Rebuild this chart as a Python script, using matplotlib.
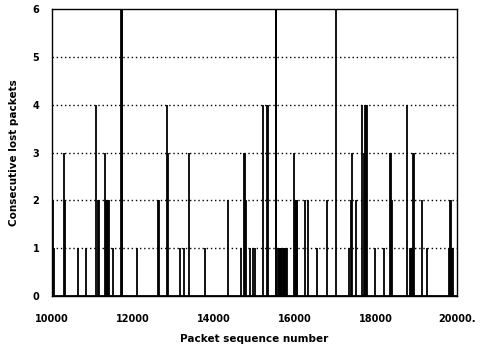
import matplotlib.pyplot as plt

# lost-packet events: packet number and burst length
packets = [10020, 10060, 10290, 10320,
           10650, 10840, 11100, 11130, 11150,
           11320, 11340, 11360, 11380, 11400, 11510,
           11700, 11720, 11740, 12100, 12620, 12650,
           12840, 12870, 13160, 13260, 13380, 13790,
           14350, 14660, 14740, 14770, 14800, 14890, 14960,
           15010, 15200, 15300, 15330, 15520, 15540,
           15580, 15600, 15620, 15640, 15660, 15680, 15700, 15720, 15740, 15760, 15780, 15800,
           15980, 16000, 16020, 16040, 16060, 16250, 16330, 16540, 16800, 17010,
           17340, 17380, 17400, 17510, 17660, 17700, 17740, 17760, 17780,
           17980, 18200, 18350, 18370, 18390, 18770, 18840, 18860, 18880,
           18920, 18950, 19130, 19260,
           19800, 19820, 19840, 19860, 19880, 19900]
lost = [2, 1, 3, 2,
        1, 1, 4, 2, 2,
        3, 2, 2, 2, 2, 1,
        6, 6, 6, 1, 2, 2,
        4, 3, 1, 1, 3, 1,
        2, 1, 3, 3, 2, 1, 1,
        1, 4, 4, 4, 6, 6,
        1, 1, 1, 1, 1, 1, 1, 1, 1, 1, 1, 1,
        3, 2, 2, 2, 2, 2, 2, 1, 2, 6,
        1, 2, 3, 2, 4, 3, 4, 4, 4,
        1, 1, 3, 3, 2, 4, 1, 1, 1,
        3, 3, 2, 1,
        1, 1, 2, 2, 1, 1]

fig, ax = plt.subplots(figsize=(4.81, 3.51), dpi=100)
fig.subplots_adjust(left=0.108, right=0.950, bottom=0.157, top=0.974)

ax.vlines(packets, 0, lost, colors='black', linewidth=1.3)
ax.axhline(0, color='black', linewidth=2.0)

for yv in [1, 2, 3, 4, 5]:
    ax.axhline(yv, color='black', linestyle=(0, (1, 2)), linewidth=1.0, zorder=0)

ax.set_xlim(10000, 20000)
ax.set_ylim(0, 6)
ax.set_xticks([10000, 12000, 14000, 16000, 18000, 20000])
ax.set_xticklabels(['10000', '12000', '14000', '16000', '18000', '20000.'])
ax.set_yticks(range(7))
ax.tick_params(length=0, labelsize=7)
ax.tick_params(axis='x', pad=13)
ax.tick_params(axis='y', pad=9)
for lab in ax.get_xticklabels() + ax.get_yticklabels():
    lab.set_fontweight('bold')
for s in ax.spines.values():
    s.set_linewidth(1.0)

ax.set_xlabel('Packet sequence number', fontsize=7.5, fontweight='bold', labelpad=7)
ax.set_ylabel('Consecutive lost packets', fontsize=7.5, fontweight='bold', labelpad=10)

plt.savefig('out.png', dpi=100)
